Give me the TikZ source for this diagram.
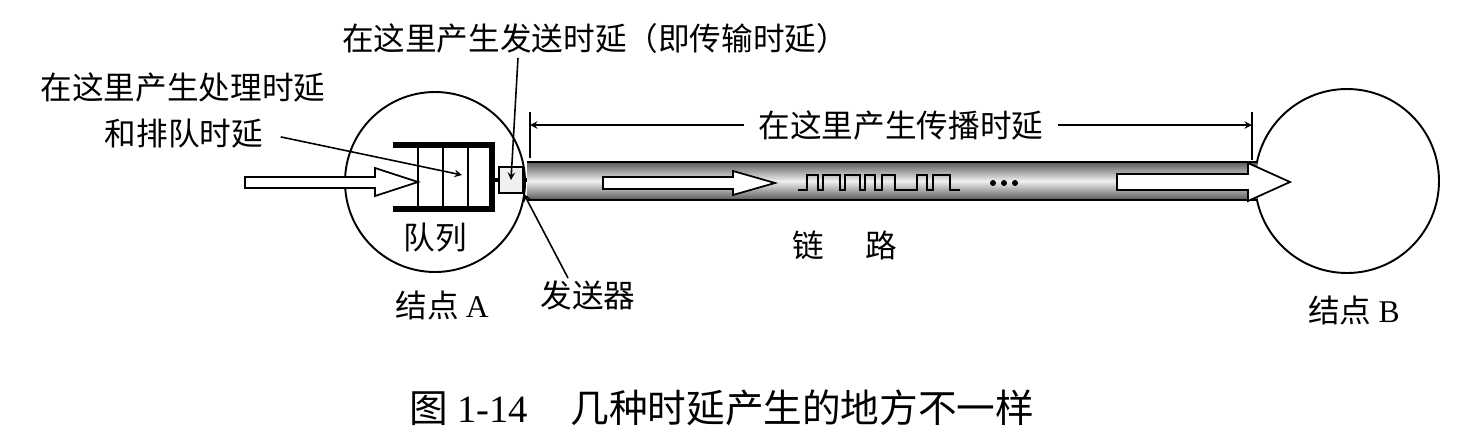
\documentclass[tikz,border=0pt]{standalone}
\usepackage{fontspec}
\setmainfont{Liberation Serif}
\newfontfamily\cjk{Noto Sans CJK SC}
\usepackage{tikz}
\usetikzlibrary{arrows, positioning}
\tikzstyle{lbl} = [font=\fontsize{18}{20}\selectfont\cjk, inner sep=2pt]
\tikzstyle{captext} = [font=\fontsize{22}{24}\selectfont\cjk, inner sep=2pt]
\tikzstyle{ring} = [draw=black, line width=1.1pt]
\tikzstyle{hollow} = [draw=black, line width=1pt, fill=white]
\tikzstyle{arrow} = [line width=0.9pt,->,>=stealth]

\begin{document}
\begin{tikzpicture}[x=0.02cm, y=-0.02cm]
\useasboundingbox (0,0) rectangle (1468,437);

% the two nodes
\draw [ring] (435,182) circle (90);
\draw [ring] (1347,181) circle (92);

% the link
\shade [top color=gray!70!black, bottom color=gray!70!black, middle color=gray!12] (527,162) rectangle (1257,200);
\draw [line width=1pt] (527,162) -- (1257,162) (527,200) -- (1257,200);

% queue and transmitter
\draw [line width=3pt] (393,145) -- (492,145) -- (492,209) -- (393,209);
\foreach \x in {418,443,468} \draw [line width=1pt] (\x,145) -- (\x,209);
\node [draw, line width=1pt, fill=gray!12, minimum width=0.48cm, minimum height=0.52cm] (tx) at (511,180) {};
\draw [line width=2pt] (492,180) -- (tx.west);
\draw [line width=2pt] (tx.east) -- (527,180);

% hollow arrows
\draw [hollow] (245,177) -- (375,177) -- (375,168) -- (418,182) -- (375,196) -- (375,188) -- (245,188) -- cycle;
\draw [hollow] (603,177) -- (733,177) -- (733,171) -- (775,183) -- (733,195) -- (733,189) -- (603,189) -- cycle;
\draw [hollow] (1117,174) -- (1248,174) -- (1248,163) -- (1290,182) -- (1248,201) -- (1248,190) -- (1117,190) -- cycle;

% bits on the link
\draw [line width=1.2pt] (798,190) -- (807,190) -- (807,175) -- (818,175) -- (818,190) -- (823,190) -- (823,175)
  -- (840,175) -- (840,190) -- (845,190) -- (845,175) -- (860,175) -- (860,190) -- (865,190) -- (865,175)
  -- (875,175) -- (875,190) -- (882,190) -- (882,175) -- (895,175) -- (895,190) -- (917,190) -- (917,175)
  -- (927,175) -- (927,190) -- (933,190) -- (933,175) -- (950,175) -- (950,190) -- (960,190);
\foreach \x in {993,1004,1015} \fill (\x,183) circle (3);

% labels
\node [lbl] (proc) at (183,87) {在这里产生处理时延};
\node [lbl] (proc2) at (184,134) {和排队时延};
\node [lbl] (send) at (595,38) {在这里产生发送时延（即传输时延）};
\node [lbl, inner xsep=8pt] (prop) at (901,125) {在这里产生传播时延};
\node [lbl] (queue) at (435,238) {队列};
\node [lbl] (txlbl) at (588,295) {发送器};
\node [lbl] (link) at (845,245) {链\hspace{1.3em}路};
\node [lbl] (nodeA) at (442,305) {结点 {\rmfamily A}};
\node [lbl] (nodeB) at (1354,310) {结点 {\rmfamily B}};
\node [captext] (caption) at (722,408) {图 {\rmfamily 1-14}\hspace{1.1em}几种时延产生的地方不一样};

% pointers
\coordinate (qtip) at (462,175);
\coordinate (sendfoot) at (518,58);
\coordinate (txfoot) at (568,278);
\draw [arrow, shorten <=8pt] (proc2.east) -- (qtip);
\draw [arrow] (sendfoot) -- (tx.center);
\draw [arrow] (txfoot) -- (tx.south east);

% extent of the propagation delay
\draw [line width=1pt] (530,112) -- (530,158);
\draw [line width=1pt] (1252,112) -- (1252,160);
\coordinate (propL) at (530,125);
\coordinate (propR) at (1252,125);
\draw [arrow] (prop.west) -- (propL);
\draw [arrow] (prop.east) -- (propR);
\end{tikzpicture}
\end{document}
